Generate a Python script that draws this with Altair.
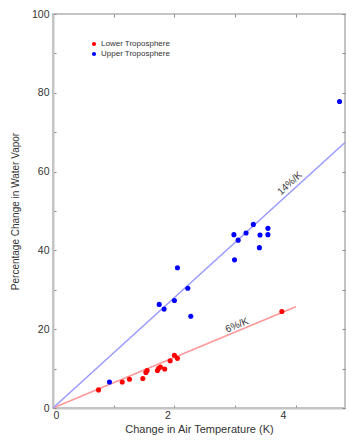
import altair as alt
import pandas as pd

# Data
red_x = [0.75, 1.14, 1.26, 1.48, 1.53, 1.55, 1.72, 1.74, 1.77, 1.84, 1.93, 2.00, 2.05, 3.77]
red_y = [4.6, 6.6, 7.3, 7.5, 9.0, 9.5, 9.5, 10.1, 10.4, 9.9, 12.0, 13.4, 12.6, 24.5]

blue_x = [0.93, 1.75, 1.83, 2.00, 2.05, 2.22, 2.27, 2.98, 2.99, 3.05, 3.18, 3.30, 3.40, 3.41, 3.54, 3.54, 4.72]
blue_y = [6.6, 26.3, 25.1, 27.3, 35.6, 30.4, 23.3, 44.0, 37.6, 42.6, 44.4, 46.6, 40.7, 43.9, 45.6, 44.0, 77.8]

series_names = ["Lower Troposphere", "Upper Troposphere"]
series_colors = ["#ff0000", "#0000ff"]
line_colors = ["#ff9999", "#9999ff"]

red_line_x = [0.0, 4.0]
red_line_y = [0.0, 25.7]
blue_line_x = [0.0, 4.81]
blue_line_y = [0.0, 67.4]

label_text = ["14%/K", "6%/K"]
label_x = [3.90, 3.03]
label_y = [57.0, 21.0]
label_angle = [317.5, 337.0]

x_ticks = [0, 1, 2, 3, 4]
y_ticks = list(range(0, 101, 10))

FONT = "Liberation Sans"
TICKC = "#8a8a8a"
FRAME = "#c4c4c4"
TEXTC = "#333333"

pts = pd.DataFrame({
    "x": red_x + blue_x,
    "y": red_y + blue_y,
    "series": [series_names[0]] * len(red_x) + [series_names[1]] * len(blue_x),
})
lines = pd.DataFrame({
    "x": red_line_x + blue_line_x,
    "y": red_line_y + blue_line_y,
    "series": [series_names[0]] * 2 + [series_names[1]] * 2,
})
labels = pd.DataFrame({"t": label_text, "x": label_x, "y": label_y, "a": label_angle})

xscale = alt.Scale(domain=[0, 4.81], nice=False, zero=False)
yscale = alt.Scale(domain=[0, 100], nice=False)

xaxis = alt.Axis(
    title="Change in Air Temperature (K)",
    values=x_ticks,
    format="d",
    labelExpr="datum.value % 2 == 0 ? datum.label : ''",
    labelOffset={"condition": [{"test": "datum.value == 2", "value": -7},
                               {"test": "datum.value == 4", "value": -13}],
                 "value": 0},
    tickSize={"expr": "-3"},
    tickColor=TICKC,
    grid=False,
    labelPadding=5,
    titlePadding=3,
    titleFontSize=11,
)
yaxis = alt.Axis(
    title="Percentage Change in Water Vapor",
    values=y_ticks,
    format="d",
    labelExpr="datum.value % 20 == 0 ? datum.label : ''",
    tickSize={"expr": "-3"},
    tickColor=TICKC,
    grid=False,
    labelPadding=7,
    titlePadding=11,
    titleFontSize=10,
)
xaxis_top = alt.Axis(orient="top", values=x_ticks, labels=False, title=None, domain=False,
                     tickSize={"expr": "-3"}, tickColor=TICKC, grid=False)
yaxis_right = alt.Axis(orient="right", values=y_ticks, labels=False, title=None, domain=False,
                       tickSize={"expr": "-3"}, tickColor=TICKC, grid=False)

line_layer = alt.Chart(lines).mark_line(strokeWidth=1.5).encode(
    x=alt.X("x:Q", scale=xscale, axis=xaxis),
    y=alt.Y("y:Q", scale=yscale, axis=yaxis),
    detail="series:N",
    color=alt.Color("series:N", scale=alt.Scale(domain=series_names, range=line_colors),
                    legend=None),
)

point_layer = alt.Chart(pts).mark_point(filled=True, opacity=1, size=26, shape="circle").encode(
    x=alt.X("x:Q", scale=xscale, axis=xaxis),
    y=alt.Y("y:Q", scale=yscale, axis=yaxis),
    color=alt.Color("series:N", scale=alt.Scale(domain=series_names, range=series_colors),
                    legend=alt.Legend(title=None, orient="none", legendX=37, legendY=26,
                                      symbolType="circle", symbolSize=18, labelFontSize=8,
                                      labelOffset=3, rowPadding=2, labelColor=TEXTC,
                                      labelFont=FONT)),
)

text_layer = alt.Chart(labels).mark_text(fontSize=10, font=FONT, color=TEXTC).encode(
    x=alt.X("x:Q", scale=xscale, axis=xaxis),
    y=alt.Y("y:Q", scale=yscale, axis=yaxis),
    text="t:N",
    angle=alt.Angle("a:Q", scale=None),
)

main = alt.layer(line_layer, point_layer, text_layer).resolve_scale(color="independent")

frame_layer = alt.Chart(lines).mark_point(opacity=0).encode(
    x=alt.X("x:Q", scale=xscale, axis=xaxis_top),
    y=alt.Y("y:Q", scale=yscale, axis=yaxis_right),
)

chart = alt.layer(main, frame_layer).resolve_axis(x="independent", y="independent").properties(
    width=292,
    height=394,
    autosize=alt.AutoSizeParams(type="none"),
    padding={"left": 45, "top": 6, "right": 1, "bottom": 28},
).configure_view(
    stroke=FRAME, strokeWidth=2
).configure_axis(
    domainColor=FRAME,
    domainWidth=2,
    labelFont=FONT,
    titleFont=FONT,
    labelFontSize=10.5,
    labelColor=TEXTC,
    titleColor=TEXTC,
    titleFontWeight="normal",
)

chart.save("out.html", embed_options={"renderer": "svg", "actions": False})
